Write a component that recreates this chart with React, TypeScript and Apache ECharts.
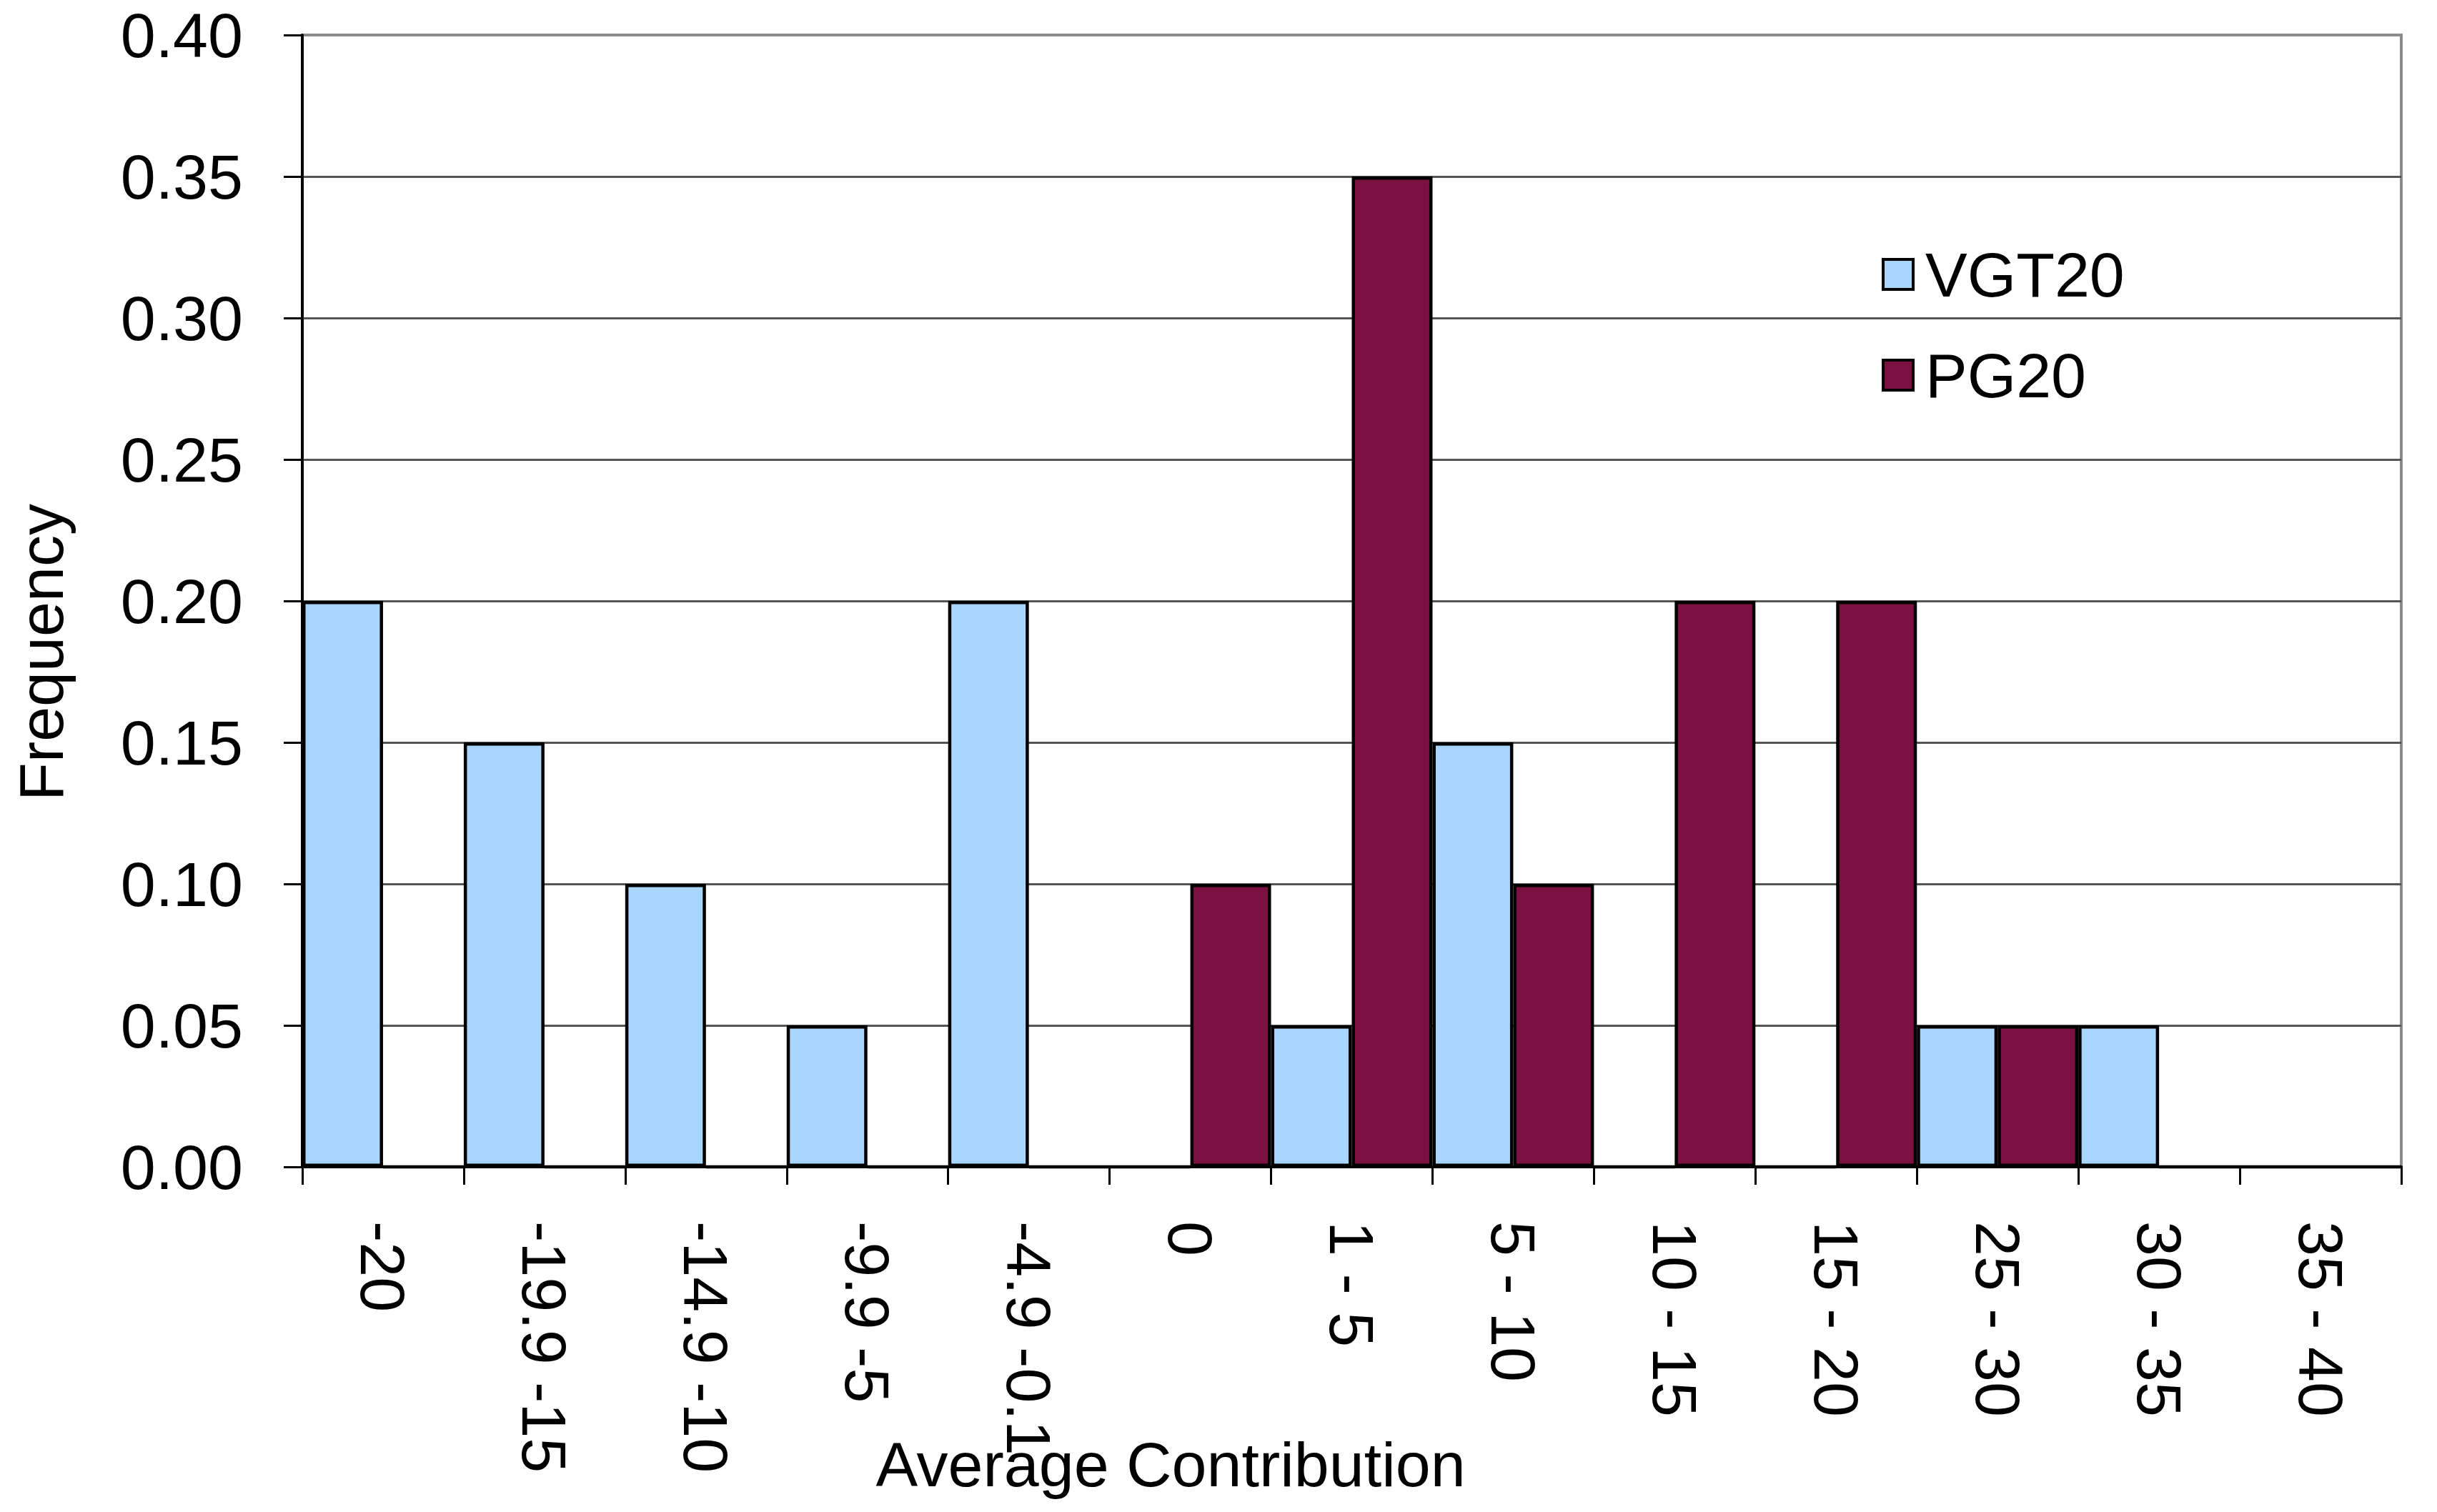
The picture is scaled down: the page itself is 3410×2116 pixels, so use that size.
import React, { useEffect, useRef } from "react";
import * as echarts from "echarts";

const categories = [
  "-20",
  "-19.9 -15",
  "-14.9 -10",
  "-9.9 -5",
  "-4.9 -0.1",
  "0",
  "1 - 5",
  "5 - 10",
  "10 - 15",
  "15 - 20",
  "25 - 30",
  "30 - 35",
  "35 - 40",
];
const vgt20 = [0.2, 0.15, 0.1, 0.05, 0.2, 0, 0.05, 0.15, 0, 0, 0.05, 0.05, 0];
const pg20 = [0, 0, 0, 0, 0, 0.1, 0.35, 0.1, 0.2, 0.2, 0.05, 0, 0];
const yTicks = [0, 0.05, 0.1, 0.15, 0.2, 0.25, 0.3, 0.35, 0.4];

const FONT = "'Liberation Sans', Arial, Helvetica, sans-serif";

export default function App() {
  const ref = useRef<HTMLDivElement>(null);
  useEffect(() => {
    if (!ref.current) return;
    const chart = echarts.init(ref.current, null, { renderer: "svg" });
    const gridColors = yTicks.map((_, i) => (i === yTicks.length - 1 ? "#8c8c8c" : "#555555"));
    chart.setOption({
      animation: false,
      backgroundColor: "#ffffff",
      textStyle: { fontFamily: FONT },
      grid: {
        left: 423,
        right: 50,
        top: 49,
        bottom: 483,
        show: true,
        borderColor: "#8c8c8c",
        borderWidth: 4,
        backgroundColor: "transparent",
      },
      legend: {
        orient: "vertical",
        left: 2628,
        top: 335,
        itemWidth: 42,
        itemHeight: 42,
        itemGap: 53,
        icon: "rect",
        itemStyle: { borderColor: "#000", borderWidth: 4 },
        textStyle: {
          fontSize: 88,
          color: "#000",
          fontFamily: FONT,
          lineHeight: 42,
          padding: [0, 0, 0, 12],
        },
        data: ["VGT20", "PG20"],
      },
      xAxis: {
        type: "category",
        data: categories,
        axisLine: { lineStyle: { color: "#000", width: 4 } },
        axisTick: {
          show: true,
          interval: 0,
          length: 25,
          alignWithLabel: false,
          lineStyle: { color: "#000", width: 3 },
        },
        axisLabel: {
          interval: 0,
          rotate: -90,
          margin: 76,
          fontSize: 88,
          color: "#000",
          fontFamily: FONT,
        },
        splitLine: { show: false },
      },
      yAxis: {
        type: "value",
        min: 0,
        max: 0.4,
        interval: 0.05,
        axisLine: { show: true, lineStyle: { color: "#000", width: 4 } },
        axisTick: { show: true, length: 26, lineStyle: { color: "#000", width: 3 } },
        axisLabel: {
          margin: 83,
          fontSize: 88,
          color: "#000",
          fontFamily: FONT,
          formatter: (v: number) => v.toFixed(2),
        },
        splitLine: { show: true, lineStyle: { color: gridColors, width: 3 } },
      },
      graphic: [
        {
          type: "text",
          x: 57,
          y: 913,
          rotation: Math.PI / 2,
          style: {
            text: "Frequency",
            fontSize: 88,
            fontFamily: FONT,
            fill: "#000",
            align: "center",
            verticalAlign: "middle",
          },
        },
        {
          type: "text",
          x: 1638,
          y: 2049,
          style: {
            text: "Average Contribution",
            fontSize: 88,
            fontFamily: FONT,
            fill: "#000",
            align: "center",
            verticalAlign: "middle",
          },
        },
      ],
      series: [
        {
          name: "VGT20",
          type: "bar",
          data: vgt20,
          barGap: "0%",
          barCategoryGap: "0%",
          itemStyle: { color: "#a8d6fd", borderColor: "#000", borderWidth: 4.5 },
        },
        {
          name: "PG20",
          type: "bar",
          data: pg20,
          barGap: "0%",
          barCategoryGap: "0%",
          itemStyle: { color: "#7c1040", borderColor: "#000", borderWidth: 4.5 },
        },
      ],
    });
    return () => chart.dispose();
  }, []);
  return (
    <div
      ref={ref}
      style={{ position: "fixed", left: 0, top: 0, width: 3410, height: 2116, background: "#fff" }}
    />
  );
}
